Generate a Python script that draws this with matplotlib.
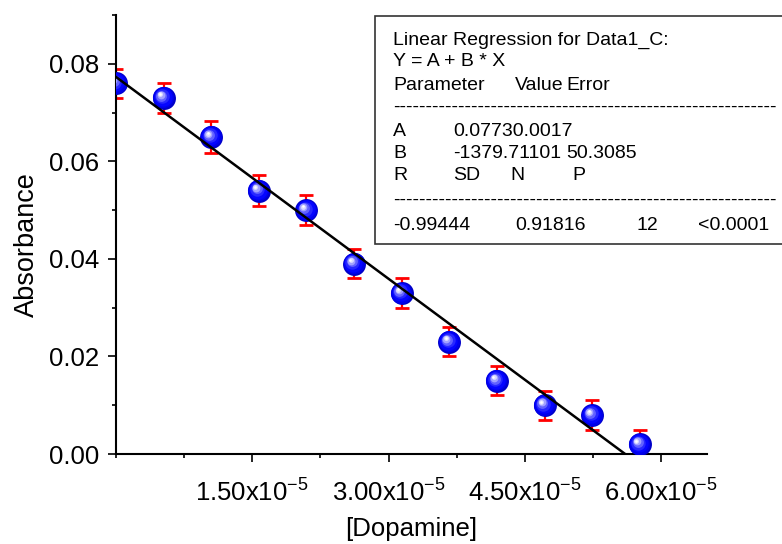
import matplotlib
matplotlib.use("Agg")
import matplotlib.pyplot as plt
import numpy as np
from matplotlib.patches import Rectangle
from matplotlib.ticker import FixedLocator, MultipleLocator, FuncFormatter
from matplotlib.transforms import offset_copy

plt.rcParams["font.family"] = ["Liberation Sans", "DejaVu Sans"]
plt.rcParams["mathtext.fontset"] = "custom"
plt.rcParams["mathtext.rm"] = "Liberation Sans"
plt.rcParams["mathtext.it"] = "Liberation Sans:italic"
plt.rcParams["mathtext.bf"] = "Liberation Sans:bold"

# data
dopamine = [0.0, 5.24e-6, 1.048e-5, 1.572e-5, 2.096e-5, 2.62e-5,
            3.144e-5, 3.668e-5, 4.192e-5, 4.716e-5, 5.24e-5, 5.764e-5]
absorbance = [0.076, 0.073, 0.065, 0.054, 0.050, 0.039,
              0.033, 0.023, 0.015, 0.010, 0.008, 0.002]
abs_err = [0.003, 0.003, 0.0032, 0.0031, 0.003, 0.003,
           0.003, 0.003, 0.003, 0.003, 0.003, 0.003]
fit_A = 0.0773
fit_B = -1379.71101
xticks_major = [1.5e-5, 3.0e-5, 4.5e-5, 6.0e-5]
xtick_labels = ["1.50x10$^{-5}$", "3.00x10$^{-5}$", "4.50x10$^{-5}$", "6.00x10$^{-5}$"]

W, H = 782, 544
fig = plt.figure(figsize=(W / 100, H / 100), dpi=100)
ax = fig.add_axes([116 / W, 1 - 454 / H, (706.7 - 116) / W, (454 - 15) / H])

ax.set_xlim(0, 6.5e-5)
ax.set_ylim(0, 0.09)

# error bars behind the symbols
ax.errorbar(dopamine, absorbance, yerr=abs_err, fmt="none", ecolor="red",
            elinewidth=1.6, capsize=5, capthick=2.0, zorder=2)

# shaded "sphere" symbols: stacked circles drifting toward the highlight
D = 16.5
layers = [(16.5, "#0000c8", 0.00), (15.2, "#0000ea", 0.02), (13.2, "#0505ff", 0.04),
          (10.4, "#2828ff", 0.07), (7.8, "#6262ff", 0.10), (5.6, "#a2a2ff", 0.13),
          (3.5, "#dcdcff", 0.15), (1.8, "#ffffff", 0.16)]
for i, (size, col, off) in enumerate(layers):
    tr = offset_copy(ax.transData, fig=fig, x=-off * D, y=off * D, units="points")
    ax.plot(dopamine, absorbance, "o", ms=size, mfc=col, mec="none",
            transform=tr, zorder=3 + i * 0.01)

# regression line on top
xfit = np.array([0.0, 6.5e-5])
ax.plot(xfit, fit_A + fit_B * xfit, color="black", lw=1.8, zorder=5)

for side in ("top", "right"):
    ax.spines[side].set_visible(False)
for side in ("left", "bottom"):
    ax.spines[side].set_linewidth(1.5)

ax.yaxis.set_major_locator(MultipleLocator(0.02))
ax.yaxis.set_minor_locator(MultipleLocator(0.01))
ax.yaxis.set_major_formatter(FuncFormatter(lambda v, p: f"{v:.2f}"))
ax.xaxis.set_major_locator(FixedLocator(xticks_major))
ax.xaxis.set_minor_locator(MultipleLocator(0.75e-5))
ax.set_xticklabels(xtick_labels)
ax.tick_params(which="major", direction="out", length=6, width=1.2, labelsize=18.5)
ax.tick_params(which="minor", direction="out", length=3, width=1.2)
ax.tick_params(axis="y", which="major", pad=6)
ax.tick_params(axis="x", which="major", pad=12)

ax.set_xlabel("[Dopamine]", fontsize=18.5, labelpad=8)
ax.set_ylabel("Absorbance", fontsize=19.5)
ax.yaxis.set_label_coords(-0.128, 0.476)

# regression report box (runs off the right edge)
fig.patches.append(Rectangle((375 / W, 1 - 244 / H), (800 - 375) / W, (244 - 16) / H,
                             transform=fig.transFigure, facecolor="white",
                             edgecolor="#333333", lw=1.2, zorder=10))
fs = 14
dashes = "-" * 59
rows = [
    (40, [(393, "Linear Regression for Data1_C:")]),
    (62, [(393, "Y = A + B * X")]),
    (85, [(393, "Parameter"), (515, "Value"), (566, "Error")]),
    (107, [(393, dashes)]),
    (131, [(393, "A"), (453, "0.07730.0017")]),
    (153, [(393, "B"), (453, "-1379.71101"), (566, "50.3085")]),
    (175, [(393, "R"), (453, "SD"), (510, "N"), (572, "P")]),
    (200, [(393, dashes)]),
    (225, [(393, "-0.99444"), (515, "0.91816"), (637, "12"), (698, "<0.0001")]),
]
for ypix, cells in rows:
    for xpix, txt in cells:
        fig.text(xpix / W, 1 - ypix / H, txt, fontsize=fs, ha="left", va="center",
                 color="black", zorder=11)

fig.savefig("out.png", dpi=100)
